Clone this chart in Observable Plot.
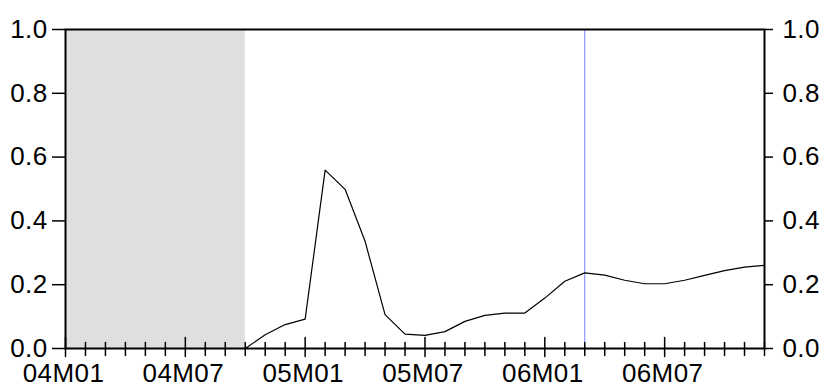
<!DOCTYPE html>
<html>
<head>
<meta charset="utf-8">
<script src="https://cdn.jsdelivr.net/npm/d3@7"></script>
<script src="https://cdn.jsdelivr.net/npm/@observablehq/plot@0.6"></script>
<style>
  html, body { margin: 0; padding: 0; background: #fff; }
  #chart text { letter-spacing: 0.4px; }
</style>
</head>
<body>
<div id="chart"></div>
<script>
// Monthly periods 2004M01 .. 2006M12
const months = [
  "04M01","04M02","04M03","04M04","04M05","04M06","04M07","04M08","04M09","04M10","04M11","04M12",
  "05M01","05M02","05M03","05M04","05M05","05M06","05M07","05M08","05M09","05M10","05M11","05M12",
  "06M01","06M02","06M03","06M04","06M05","06M06","06M07","06M08","06M09","06M10","06M11","06M12"
];
// Series values (null = no observation)
const values = [
  null, null, null, null, null, null, null, null, null,
  0.000, 0.043, 0.075, 0.092, 0.559, 0.499, 0.336, 0.106, 0.045, 0.041, 0.053, 0.085, 0.104, 0.111, 0.111,
  0.158, 0.211, 0.237, 0.230, 0.214, 0.203, 0.203, 0.214, 0.229, 0.244, 0.255, 0.261
];
const labelMonths = ["04M01","04M07","05M01","05M07","06M01","06M07"];
const yTicks = [0, 0.2, 0.4, 0.6, 0.8, 1.0];
const shadeStart = "04M01";
const shadeEnd = "04M10";
const markerMonth = "06M03";

const idx = m => months.indexOf(m);
const data = months.map((m, i) => ({i, month: m, value: values[i]}));
const shade = [{x1: idx(shadeStart), x2: idx(shadeEnd)}];
const majorIdx = labelMonths.map(idx);
const minorIdx = d3.range(months.length).filter(i => !majorIdx.includes(i));
const tickShape = {draw(context, l) { context.moveTo(0, 0); context.lineTo(0, -l); }};

const chart = Plot.plot({
  width: 824,
  height: 385,
  marginLeft: 65,
  marginRight: 60,
  marginTop: 29,
  marginBottom: 37,
  style: {fontFamily: "'Liberation Sans', Arial, sans-serif", fontSize: "26px", color: "black", background: "white"},
  x: {type: "linear", domain: [0, months.length - 1]},
  y: {domain: [0, 1]},
  marks: [
    Plot.rect(shade, {x1: "x1", x2: "x2", y1: 0, y2: 1, fill: "#dfdfdf"}),
    Plot.ruleX([idx(markerMonth)], {stroke: "#7f7fff", strokeWidth: 1}),
    Plot.line(data.filter(d => d.value != null), {x: "i", y: "value", stroke: "black", strokeWidth: 1.2}),
    Plot.frame({stroke: "black", strokeWidth: 2}),
    Plot.vector(minorIdx, {x: d => d, frameAnchor: "bottom", length: 13, rotate: 0, anchor: "start", dy: 7, shape: tickShape, stroke: "black", strokeWidth: 1.5}),
    Plot.vector(majorIdx, {x: d => d, frameAnchor: "bottom", length: 19, rotate: 0, anchor: "start", dy: 8, shape: tickShape, stroke: "black", strokeWidth: 1.5}),
    Plot.axisX({ticks: majorIdx, tickSize: 0, tickPadding: 15, dx: -2, fontSize: 26, tickFormat: i => months[i], label: null}),
    Plot.axisY({anchor: "left", ticks: yTicks, tickSize: 13, tickPadding: 5, strokeWidth: 1.5, fontSize: 26, tickFormat: d3.format(".1f"), label: null}),
    Plot.axisY({anchor: "right", ticks: yTicks, tickSize: 8, tickPadding: 10, strokeWidth: 1.5, fontSize: 26, tickFormat: d3.format(".1f"), label: null})
  ]
});
document.getElementById("chart").appendChild(chart);
</script>
</body>
</html>
